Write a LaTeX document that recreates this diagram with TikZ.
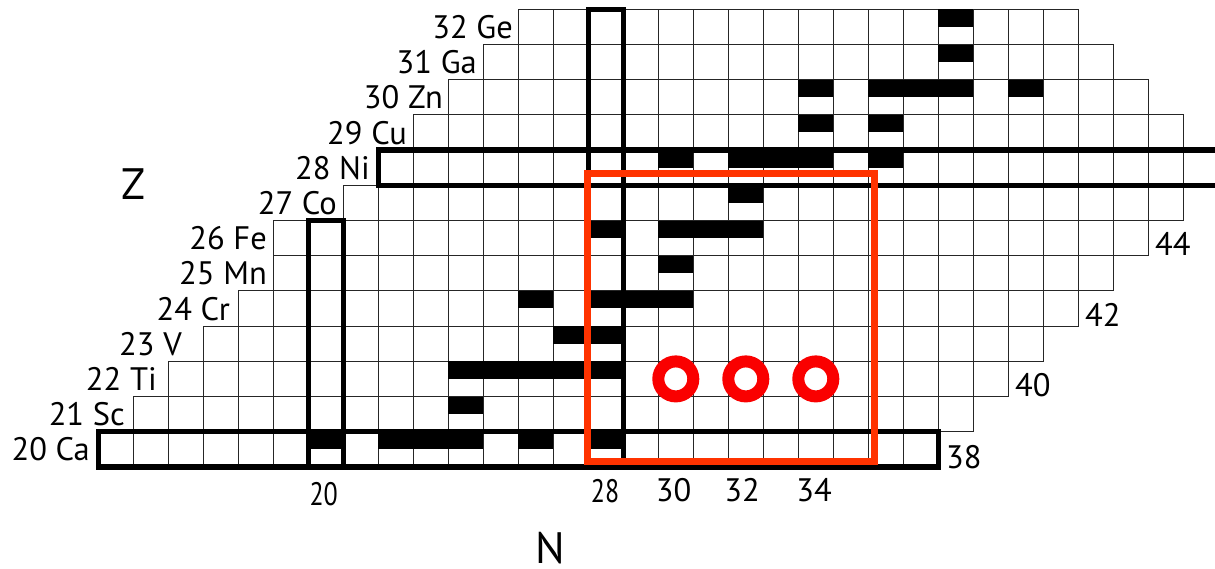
\documentclass[tikz,border=0pt]{standalone}
\usepackage{fontspec}
\setmainfont{PT Sans}
\definecolor{boxred}{RGB}{255,51,0}
\definecolor{ringred}{RGB}{250,0,0}
\begin{document}
\begin{tikzpicture}[x=1pt,y=-1pt,
  cellline/.style={draw=black!85,line width=1.1pt},
  stablebar/.style={fill=black},
  magicbox/.style={draw=black,line width=5.5pt,line join=miter},
  redbox/.style={draw=boxred,line width=7pt,line join=miter},
  ring/.style={draw=ringred,line width=12pt},
  rowlab/.style={inner sep=0pt,font=\fontsize{32.5}{32.5}\selectfont,anchor=base east},
  numlab/.style={inner sep=0pt,font=\fontsize{32.5}{32.5}\selectfont},
  axlab/.style={inner sep=0pt,font=\fontsize{44}{44}\selectfont}]
\useasboundingbox (0,0) rectangle (1215,568);
\fill[white] (0,0) rectangle (1215,568);
% grid cells: Z / first N / last N
\foreach \z/\a/\b in {20/14/37,21/15/38,22/16/39,23/17/40,24/18/41,25/19/42,26/19/43,27/21/44,28/22/44,29/23/44,30/24/43,31/25/42,32/26/41}{
  \foreach \n in {\a,...,\b}{
    \draw[cellline] ({308.3+(\n-20)*35},{431.7-(\z-20)*35.2}) rectangle ++(35,35.2);
  }
}
% stable isotopes (black upper half)
\foreach \z/\n in {20/20,20/22,20/23,20/24,20/26,20/28,21/24,22/24,22/25,22/26,22/27,22/28,23/27,23/28,24/26,24/28,24/29,24/30,25/30,26/28,26/30,26/31,26/32,27/32,28/30,28/32,28/33,28/34,28/36,29/34,29/36,30/34,30/36,30/37,30/38,30/40,31/38,32/38}{
  \fill[stablebar] ({308.3+(\n-20)*35},{431.7-(\z-20)*35.2}) rectangle ++(35,17.4);
}
% magic numbers
\draw[magicbox] (98.3,431.7) rectangle (938.3,466.9);
\draw[magicbox] (308.3,220.5) rectangle (343.3,466.9);
\draw[magicbox] (588.3,9.3) rectangle (623.3,466.9);
\draw[magicbox] (1215,150.1) -- (378.3,150.1) -- (378.3,185.3) -- (1215,185.3);
% red region
\draw[redbox] (587,173.5) rectangle (874.5,461);
\draw[ring] (675.8,378.9) circle[radius=17.5];
\draw[ring] (745.8,378.9) circle[radius=17.5];
\draw[ring] (815.8,378.9) circle[radius=17.5];
% row labels
\foreach \z/\el/\r in {20/Ca/90,21/Sc/125,22/Ti/157,23/V/182,24/Cr/230,25/Mn/267,26/Fe/267,27/Co/337,28/Ni/370,29/Cu/407,30/Zn/443,31/Ga/477,32/Ge/513}{
  \node[rowlab] (lab\z) at (\r,{449.3-(\z-20)*35.2+11.5}) {\z\ \el};
}
% right-side N labels
\node[numlab,anchor=base west] (r38) at (946,468) {38};
\node[numlab,anchor=base west] (r40) at (1015,396.5) {40};
\node[numlab,anchor=base west] (r42) at (1085,326.5) {42};
\node[numlab,anchor=base west] (r44) at (1155,255.5) {44};
% bottom N labels
\node[numlab,anchor=base] (b20) at (323.7,505) {\scalebox{0.8}[1]{20}};
\node[numlab,anchor=base] (b28) at (605,502.7) {\scalebox{0.8}[1]{28}};
\node[numlab,anchor=base] (b30) at (673.7,501.7) {30};
\node[numlab,anchor=base] (b32) at (742,501.7) {32};
\node[numlab,anchor=base] (b34) at (814,501.7) {34};
% axis labels
\node[axlab] (zax) at (133.3,184.5) {Z};
\node[axlab] (nax) at (550,548) {N};
\end{tikzpicture}
\end{document}
